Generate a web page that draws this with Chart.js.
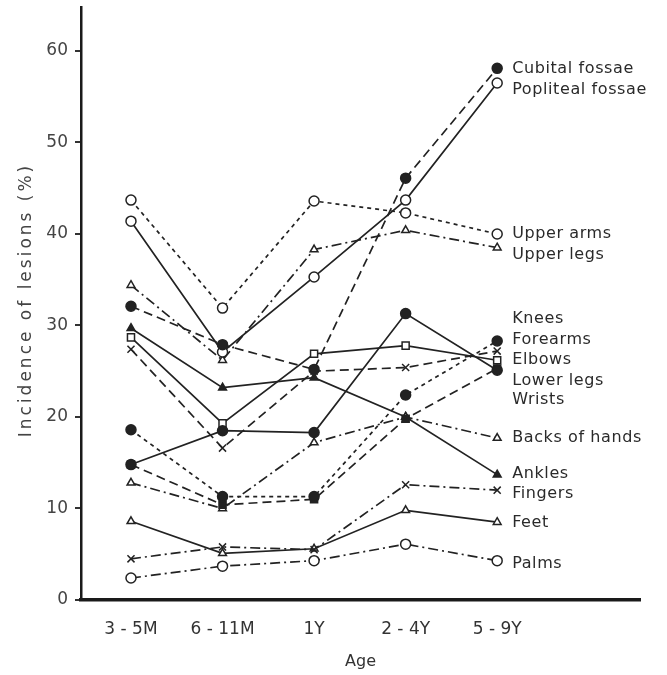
<!DOCTYPE html>
<html>
<head>
<meta charset="utf-8">
<script src="https://cdn.jsdelivr.net/npm/chart.js@4.4.1/dist/chart.umd.min.js"></script>
<style>
  html, body { margin: 0; padding: 0; background: #fff; }
  #wrap { width: 667px; height: 675px; }
</style>
</head>
<body>
<div id="wrap"><canvas id="chart" width="667" height="675"></canvas></div>
<script>
// age groups (x axis)
var ageLabels = ['3 - 5M', '6 - 11M', '1Y', '2 - 4Y', '5 - 9Y'];

// incidence of lesions (%) per site
var cubitalFossae   = [32.1, 27.9, 25.2, 46.1, 58.1];
var poplitealFossae = [41.4, 27.1, 35.3, 43.7, 56.5];
var upperArms       = [43.7, 31.9, 43.6, 42.3, 40.0];
var upperLegs       = [34.4, 26.2, 38.3, 40.4, 38.5];
var knees           = [14.8, 18.5, 18.3, 31.3, 25.1];
var forearms        = [18.6, 11.3, 11.3, 22.4, 28.3];
var elbows          = [27.4, 16.6, 25.0, 25.4, 27.2];
var lowerLegs       = [28.7, 19.3, 26.9, 27.8, 26.2];
var wrists          = [14.8, 10.4, 11.0, 19.8, 25.3];
var backsOfHands    = [12.8, 10.0, 17.2, 20.0, 17.7];
var ankles          = [29.7, 23.2, 24.3, 20.0, 13.7];
var fingers         = [4.5, 5.8, 5.5, 12.6, 12.0];
var feet            = [8.6, 5.1, 5.6, 9.8, 8.5];
var palms           = [2.4, 3.7, 4.3, 6.1, 4.3];

// y value (in %) where each end label sits
var endLabelAt = {
    'Cubital fossae': 58.0, 'Popliteal fossae': 55.7, 'Upper arms': 40.0, 'Upper legs': 37.7,
    'Knees': 30.7, 'Forearms': 28.4, 'Elbows': 26.2, 'Lower legs': 24.0, 'Wrists': 21.9,
    'Backs of hands': 17.7, 'Ankles': 13.8, 'Fingers': 11.6, 'Feet': 8.4, 'Palms': 4.0
};

var yTicks = [0, 10, 20, 30, 40, 50, 60];
var yTitle = 'Incidence of lesions (%)';

var ink = '#222';
var solid = [];
var longDash = [9, 5];
var shortDash = [4, 4];
var dashDot = [10, 4, 2, 4];

function pts(arr){
    return arr.map(function(v, i){ return {x: i, y: v}; });
}

function series(label, values, style, dash, filled){
    return {
        label: label,
        data: pts(values),
        borderColor: ink,
        borderWidth: 1.7,
        borderDash: dash,
        pointStyle: style,
        pointRadius: style === 'triangle' ? 4.5 : 5,
        pointBorderWidth: 1.5,
        pointBorderColor: ink,
        pointBackgroundColor: filled ? ink : '#fff',
        tension: 0
    };
}

// site names next to the 5-9Y points, plus the spaced-out y title
var endLabels = {
    id: 'endLabels',
    afterDatasetsDraw: function(chart){
        var ctx = chart.ctx;
        var xs = chart.scales.x, ys = chart.scales.y;
        ctx.save();
        ctx.fillStyle = '#2a2a2a';
        ctx.font = '16px "DejaVu Sans"';
        ctx.letterSpacing = '0.6px';
        ctx.textBaseline = 'middle';
        ctx.textAlign = 'left';
        chart.data.datasets.forEach(function(ds){
            var x = xs.getPixelForValue(4) + 15;
            var y = ys.getPixelForValue(endLabelAt[ds.label]);
            ctx.fillText(ds.label, x, y);
        });
        ctx.restore();

        ctx.save();
        ctx.fillStyle = '#444';
        ctx.font = '17px "DejaVu Sans"';
        ctx.letterSpacing = '3px';
        ctx.textAlign = 'center';
        ctx.textBaseline = 'middle';
        ctx.translate(27, 300);
        ctx.rotate(-Math.PI / 2);
        ctx.fillText(yTitle, 0, 0);
        ctx.restore();
    }
};

var ctx = document.getElementById('chart');
var myChart = new Chart(ctx, {
    type: 'line',
    data: {
        datasets: [
            series('Cubital fossae', cubitalFossae, 'circle', longDash, true),
            series('Popliteal fossae', poplitealFossae, 'circle', solid, false),
            series('Upper arms', upperArms, 'circle', shortDash, false),
            series('Upper legs', upperLegs, 'triangle', dashDot, false),
            series('Knees', knees, 'circle', solid, true),
            series('Forearms', forearms, 'circle', shortDash, true),
            series('Elbows', elbows, 'crossRot', longDash, false),
            series('Lower legs', lowerLegs, 'rect', solid, false),
            series('Wrists', wrists, 'rect', longDash, true),
            series('Backs of hands', backsOfHands, 'triangle', dashDot, false),
            series('Ankles', ankles, 'triangle', solid, true),
            series('Fingers', fingers, 'crossRot', dashDot, false),
            series('Feet', feet, 'triangle', solid, false),
            series('Palms', palms, 'circle', dashDot, false)
        ]
    },
    options: {
        responsive: false,
        animation: false,
        layout: { padding: { top: 7, right: 27, left: 0, bottom: 0 } },
        plugins: {
            legend: { display: false },
            tooltip: { enabled: false }
        },
        scales: {
            x: {
                type: 'linear',
                min: -0.546,
                max: 5.56,
                afterBuildTicks: function(s){
                    s.ticks = ageLabels.map(function(l, i){ return {value: i}; });
                },
                afterFit: function(s){ s.height = 75; },
                grid: { display: false, drawTicks: false },
                border: { display: true, color: '#1a1a1a', width: 3.5 },
                ticks: {
                    padding: 19,
                    color: '#333',
                    font: { family: 'DejaVu Sans', size: 17 },
                    callback: function(v){ return ageLabels[v]; }
                },
                title: {
                    display: true,
                    text: 'Age',
                    color: '#333',
                    font: { family: 'DejaVu Sans', size: 16 },
                    padding: { top: 5 }
                }
            },
            y: {
                min: 0,
                max: 64.8,
                afterBuildTicks: function(s){
                    s.ticks = yTicks.map(function(v){ return {value: v}; });
                },
                afterFit: function(s){ s.width = 81; s.paddingTop = 0; s.paddingBottom = 0; },
                grid: { drawOnChartArea: false, drawTicks: true, tickLength: 6, color: '#333', lineWidth: 2 },
                border: { display: true, color: '#1a1a1a', width: 2.5 },
                ticks: {
                    padding: 7,
                    color: '#444',
                    font: { family: 'DejaVu Sans', size: 17, lineHeight: 0.6 }
                },
                title: { display: false }
            }
        }
    },
    plugins: [endLabels]
});
</script>
</body>
</html>
